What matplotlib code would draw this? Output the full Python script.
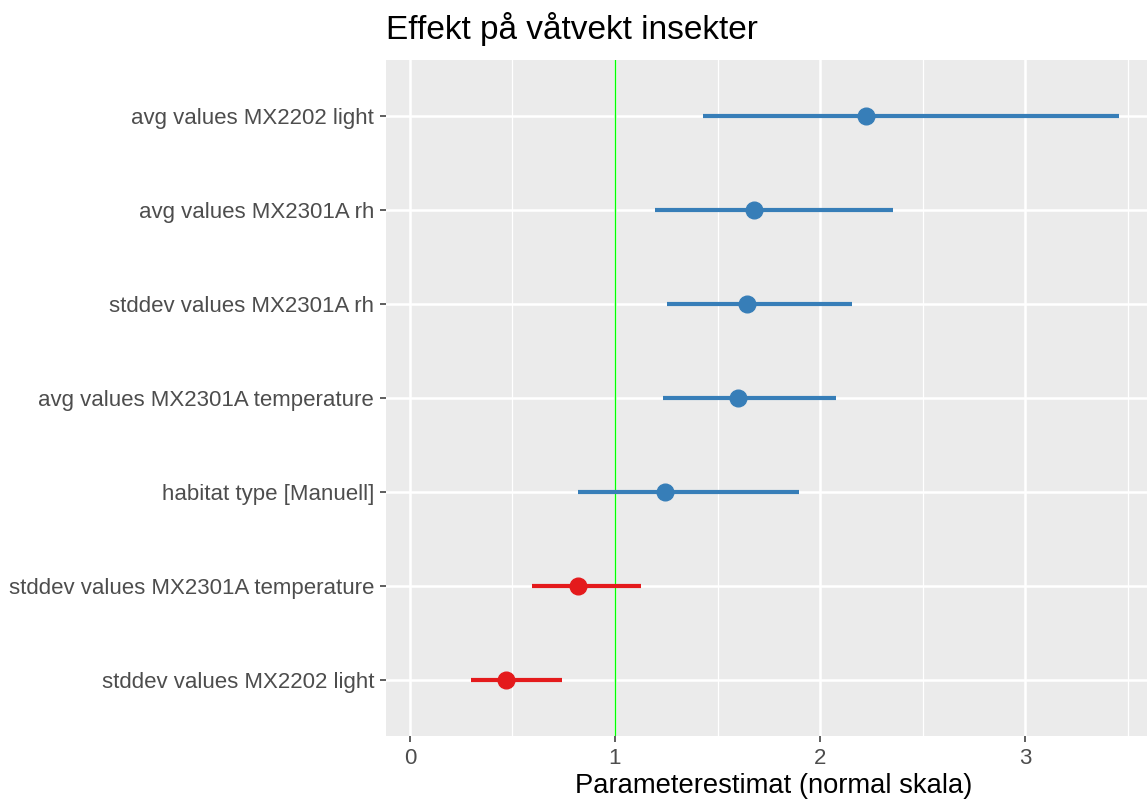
import matplotlib.pyplot as plt
import numpy as np

plt.rcParams['font.family'] = ['Liberation Sans', 'DejaVu Sans']

# --- DATA (top to bottom) ---
terms = ["avg values MX2202 light",
         "avg values MX2301A rh",
         "stddev values MX2301A rh",
         "avg values MX2301A temperature",
         "habitat type [Manuell]",
         "stddev values MX2301A temperature",
         "stddev values MX2202 light"]
estimate = [2.224, 1.678, 1.644, 1.600, 1.244, 0.820, 0.468]
conf_low = [1.430, 1.195, 1.254, 1.234, 0.820, 0.595, 0.298]
conf_high = [3.460, 2.356, 2.156, 2.078, 1.898, 1.127, 0.741]

BLUE = "#377EB8"
RED = "#E41A1C"

fig = plt.figure(figsize=(11.47, 8.02), dpi=100)
ax = fig.add_axes([386 / 1147, 1 - 736 / 802, (1147 - 386) / 1147, (736 - 60) / 802])
ax.set_facecolor("#EBEBEB")

n = len(terms)
ypos = np.arange(n)[::-1] + 1  # top item at highest y

# grid (ggplot-like)
for xv in [0.5, 1.5, 2.5, 3.5]:
    ax.axvline(xv, color="white", lw=0.9, zorder=0)
for xv in [0, 1, 2, 3]:
    ax.axvline(xv, color="white", lw=1.8, zorder=0)
for yv in ypos:
    ax.axhline(yv, color="white", lw=1.8, zorder=0)

ax.axvline(1, color="#00FF00", lw=1.0, zorder=1)

for y, est, lo, hi in zip(ypos, estimate, conf_low, conf_high):
    c = BLUE if est > 1 else RED
    ax.plot([lo, hi], [y, y], color=c, lw=3.0, solid_capstyle="butt", zorder=2)
    ax.plot(est, y, "o", color=c, ms=12, zorder=3)

ax.set_xlim(-0.117, 3.595)
ax.set_ylim(0.4, n + 0.6)
ax.set_xticks([0, 1, 2, 3])
ax.set_xticklabels(["0", "1", "2", "3"])
ax.set_yticks(ypos)
ax.set_yticklabels(terms)
ax.tick_params(colors="#333333", length=4.5, width=1.1, labelsize=16,
               labelcolor="#4D4D4D")
ax.tick_params(axis="y", pad=4)
ax.tick_params(axis="x", pad=4)
for s in ax.spines.values():
    s.set_visible(False)

ax.set_xlabel("Parameterestimat (normal skala)", fontsize=19.7, color="black")
ax.xaxis.set_label_coords(0.509, -0.054, transform=ax.transAxes)
ax.xaxis.label.set_va("top")
ax.set_title("Effekt på våtvekt insekter", fontsize=24, loc="left", pad=15)

plt.savefig("out.png", dpi=100)
